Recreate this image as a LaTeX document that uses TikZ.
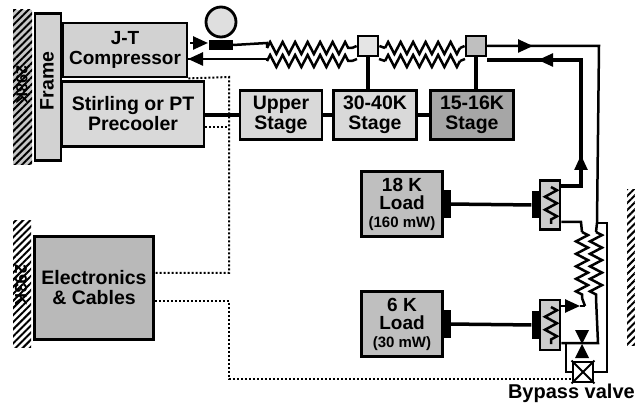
\documentclass[tikz,border=0pt]{standalone}
\usepackage{fontspec}
\setmainfont{Liberation Sans}
\usetikzlibrary{arrows.meta,decorations.pathmorphing,patterns.meta}

\tikzset{
    box/.style={draw, line width=2.8pt, inner sep=0pt, align=center,
        font=\fontsize{19.5}{20}\selectfont\bfseries},
    tab/.style={fill=black, inner sep=0pt, minimum width=7pt},
    pipe/.style={line width=2.5pt},
    heavy/.style={line width=3.5pt},
    strap/.style={line width=3.5pt},
    wiring/.style={line width=2pt, dotted},
    coil/.style={decorate, decoration={zigzag, segment length=12.5pt, amplitude=6pt}},
    tipflow/.style={-{Triangle[length=15pt,width=13pt]}},
    hatched/.style={pattern={Lines[angle=45,distance=5pt,line width=2pt]}}
}

\begin{document}
\begin{tikzpicture}[x=1pt,y=-1pt]

\useasboundingbox (0,0) rectangle (635,406);

% Thermal sinks
\fill[gray!45] (13,10) rectangle (32,165);
\fill[hatched] (13,10) rectangle (32,165);
\fill[hatched] (13,221) rectangle (31,347);
\fill[hatched] (627,190) rectangle (635,345);
\node[rotate=-90, font=\bfseries\fontsize{16}{16}\selectfont, inner sep=0pt] (warmk) at (22,85) {298K};
\node[rotate=-90, font=\bfseries\fontsize{17}{17}\selectfont, inner sep=0pt] (roomk) at (21,285) {293K};

% Warm end
\node[box, fill=gray!35, minimum width=26pt, minimum height=147pt] (frame) at (48,87) {};
\node[rotate=90, font=\fontsize{19.5}{19.5}\selectfont\bfseries] (framelabel) at (47,81) {Frame};
\node[box, fill=gray!35, minimum width=124pt, minimum height=54pt, font=\fontsize{19}{20}\selectfont\bfseries] (jtcomp) at (125,50) {J-T\\Compressor};
\node[box, fill=gray!30, minimum width=142pt, minimum height=65pt] (stirling) at (133,114) {Stirling or PT\\Precooler};
\node[box, fill=gray!55, minimum width=119pt, minimum height=103pt] (electronics) at (94,288) {Electronics\\\& Cables};

% Stages
\node[box, fill=gray!30, minimum width=82pt, minimum height=49pt] (upper) at (281,115) {Upper\\Stage};
\node[box, fill=gray!30, minimum width=83pt, minimum height=49pt] (midstage) at (375,115) {30-40K\\Stage};
\node[box, fill=gray!70, minimum width=83pt, minimum height=49pt] (coldstage) at (472,115) {15-16K\\Stage};

% Loads
\node[box, fill=gray!50, minimum width=81pt, minimum height=65pt, font=\fontsize{19}{18}\selectfont\bfseries] (loadhigh) at (402,204)
    {18 K\\Load\\{\fontsize{15}{18}\selectfont (160 mW)}};
\node[box, fill=gray!50, minimum width=81pt, minimum height=65pt, font=\fontsize{19}{18}\selectfont\bfseries] (loadlow) at (402,324)
    {6 K\\Load\\{\fontsize{15}{18}\selectfont (30 mW)}};
\node[tab, minimum height=28pt] (tabhigh) at (447,204) {};
\node[tab, minimum height=27pt] (tablow) at (447,324) {};

% Load heat exchangers
\node[box, line width=2.5pt, fill=gray!40, minimum width=20pt, minimum height=49pt] (hxhigh) at (550,205) {};
\node[box, line width=2.5pt, fill=gray!40, minimum width=20pt, minimum height=50pt] (hxlow) at (550,325) {};
\node[tab, minimum height=27pt] (hxtabhigh) at (535,205) {};
\node[tab, minimum height=27pt] (hxtablow) at (535,325) {};
\draw[pipe, coil, decoration={segment length=13pt, amplitude=6pt}] (551,187) -- (551,224);
\draw[pipe, coil, decoration={segment length=13pt, amplitude=6pt}] (551,307) -- (551,344);

% Gauge, pump, stage blocks
\node[circle, draw, line width=2.8pt, fill=gray!25, minimum size=30pt, inner sep=0pt] (gauge) at (221,22) {};
\node[fill=black, minimum width=24pt, minimum height=10pt, inner sep=0pt] (pump) at (221,45) {};
\node[draw, line width=2.8pt, fill=gray!20, minimum size=20pt, inner sep=0pt] (blockone) at (368,46) {};
\node[draw, line width=2.8pt, fill=gray!50, minimum size=20pt, inner sep=0pt] (blocktwo) at (476,46) {};

% Coordinates of the piping
\coordinate (jtout) at (190,43);
\coordinate (jtin) at (188,59);
\coordinate (pumpin) at (208,43);
\coordinate (coilonea) at (267,48);
\coordinate (coiloneb) at (352,48);
\coordinate (returna) at (267,61);
\coordinate (returnb) at (352,61);
\coordinate (coiltwoa) at (385,48);
\coordinate (coiltwob) at (460,48);
\coordinate (backa) at (385,61);
\coordinate (backb) at (460,61);
\coordinate (aftertop) at (533,46);
\coordinate (cornertop) at (599,46);
\coordinate (returnelbow) at (581,60);
\coordinate (returntip) at (538,60);
\coordinate (uptip) at (581,155);
\coordinate (hxhighout) at (581,186);
\coordinate (stackhigha) at (582,232);
\coordinate (stackhighb) at (596,232);
\coordinate (stacklowa) at (582,298);
\coordinate (stacklowb) at (596,298);
\coordinate (hxhighin) at (581,222);
\coordinate (bypasstop) at (607,223);
\coordinate (bypasscorner) at (607,372);
\coordinate (bypassjoin) at (597,223);
\coordinate (jtright) at (598,343);
\coordinate (hxlowtip) at (580,306);
\coordinate (hxlowout) at (585,306);

% Valve
\node[draw, line width=2.8pt, fill=white, minimum size=20pt, inner sep=0pt] (valve) at (583,372) {};
\draw[line width=2pt] (valve.north west) -- (valve.south east);
\draw[line width=2pt] (valve.north east) -- (valve.south west);
\coordinate (valvejoin) at (566,343);
\node[font=\fontsize{20}{20}\selectfont\bfseries, inner sep=0pt, anchor=east] (valvelabel) at (635,393) {Bypass valve};

% Supply and return piping
\draw[pipe, tipflow] (jtout) -- (pumpin);
\draw[pipe] (pump.east) -- (267,43) -- (coilonea);
\draw[pipe, coil] (coilonea) -- (coiloneb);
\draw[pipe] (coiloneb) -- (blockone.west);
\draw[pipe] (returna) -- (267,59) -- (jtin);
\draw[pipe, tipflow] (205,59) -- (jtin);
\draw[pipe, coil] (returna) -- (returnb);
\draw[pipe] (returnb) -- (357,59);
\draw[pipe] (blockone.east) -- (coiltwoa);
\draw[pipe, coil] (coiltwoa) -- (coiltwob);
\draw[pipe] (coiltwob) -- (blocktwo.west);
\draw[pipe, coil] (backa) -- (backb);
\draw[pipe] (379,59) -- (backa);
\draw[pipe] (backb) -- (465,59);
\draw[pipe] (blocktwo.east) -- (cornertop) -- (bypassjoin) -- (stackhighb);
\draw[pipe, tipflow] (blocktwo.east) -- (aftertop);
\draw[heavy] (487,60) -- (returnelbow) -- (hxhighout) -- (hxhigh.east |- hxhighout);
\draw[pipe, tipflow] (returnelbow) -- (returntip);
\draw[pipe, tipflow] (hxhighout) -- (uptip);

% Stack between the loads
\draw[pipe] (hxhigh.east |- hxhighin) -- (hxhighin) -- (stackhigha);
\draw[pipe, coil] (stackhigha) -- (stacklowa);
\draw[pipe, coil] (stackhighb) -- (stacklowb);
\draw[pipe] (bypassjoin) -- (bypasstop) -- (bypasscorner) -- (valve.east);
\draw[pipe] (stacklowa) -- (hxlowout);
\draw[pipe] (hxlowout) -- (hxlowtip);
\draw[pipe, tipflow] (hxlow.east |- hxlowtip) -- (hxlowtip);
\draw[pipe] (stacklowb) -- (jtright) -- (hxlow.east |- jtright);
\draw[pipe] (valvejoin) -- (valvejoin |- valve.west) -- (valve.west);

% Expansion valve
\fill (575,330) -- (589,330) -- (582,344) -- cycle;
\fill (575,358) -- (589,358) -- (582,344) -- cycle;

% Thermal straps
\draw[strap] (tabhigh) -- (hxtabhigh);
\draw[strap] (tablow) -- (hxtablow);
\draw[heavy] (blockone) -- (blockone |- midstage.north);
\draw[heavy] (blocktwo) -- (blocktwo |- coldstage.north);
\draw[heavy] (stirling.east |- upper) -- (upper.west);
\draw[heavy] (upper.east) -- (midstage.west);
\draw[heavy] (midstage.east) -- (coldstage.west);

% Wiring
\coordinate (wirejt) at (229,77);
\coordinate (wirestir) at (229,127);
\coordinate (wiretop) at (229,273);
\coordinate (wirelow) at (229,301);
\coordinate (wirefloor) at (229,379);
\draw[wiring] (jtcomp.south east) -- (wirejt) -- (wiretop) -- (electronics.east |- wiretop);
\draw[wiring] (stirling.east |- wirestir) -- (wirestir);
\draw[wiring] (electronics.east |- wirelow) -- (wirelow) -- (wirefloor) -- (valve.south west |- wirefloor);

\end{tikzpicture}
\end{document}
